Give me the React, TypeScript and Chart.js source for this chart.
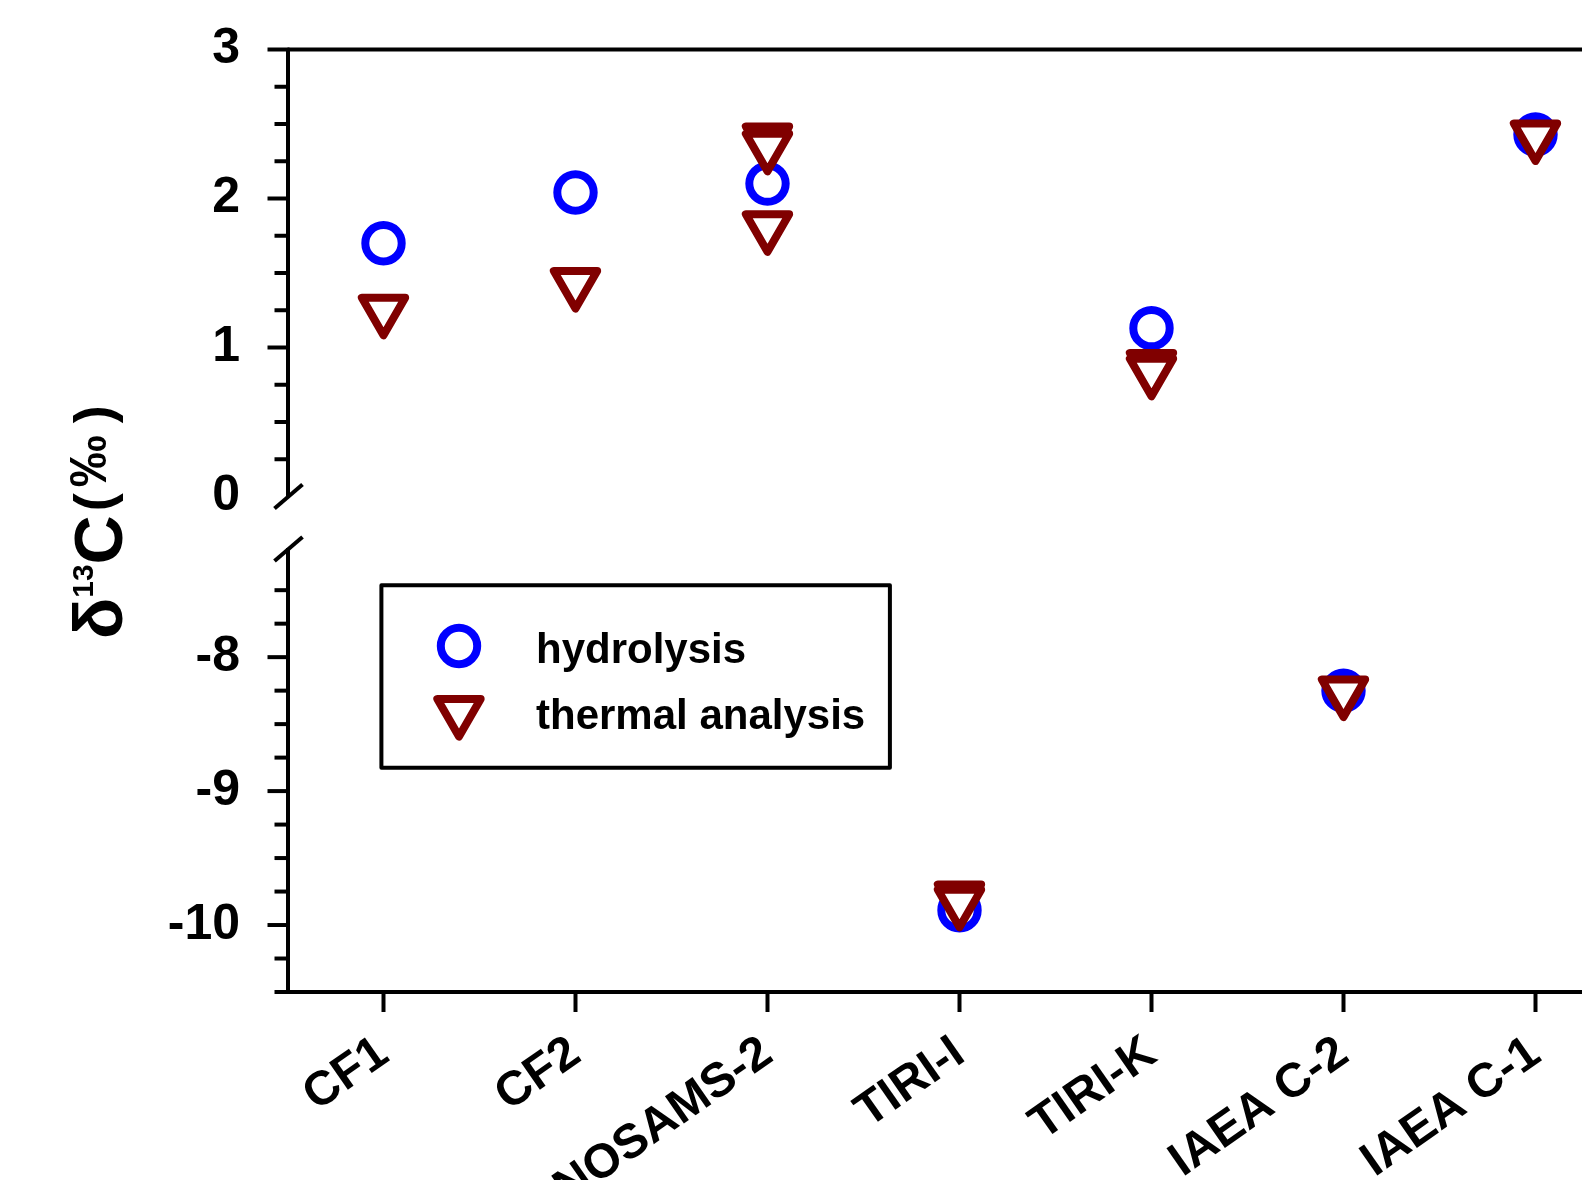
import React, { useEffect, useRef } from 'react';
import { Chart, registerables } from 'chart.js';

Chart.register(...registerables);

// ---------------- data ----------------
const categories = ['CF1', 'CF2', 'NOSAMS-2', 'TIRI-I', 'TIRI-K', 'IAEA C-2', 'IAEA C-1'];
const hydrolysis: (number | null)[] = [1.70, 2.04, 2.10, -9.89, 1.13, -8.25, 2.43];
const thermalRunA: (number | null)[] = [1.25, 1.43, 2.40, -9.79, 0.88, -8.26, 2.42];
const thermalRunB: (number | null)[] = [null, null, 2.35, -9.83, 0.84, null, null];
const thermalRunC: (number | null)[] = [null, null, 1.81, null, null, null, null];
const upperRange = [0, 3];
const lowerRange = [-10.5, -7.2];
const tickStep = 0.25;
const legendLabels = ['hydrolysis', 'thermal analysis'];
const titleParts = ['\u03b4', '13', 'C', '(', '\u2030', ')'];

// ---------------- layout / style ----------------
const FONT = "'Liberation Sans', Arial, Helvetica, sans-serif";
const CANVAS_W = 1640;
const CANVAS_H = 1180;
const AXIS_X = 287.5;
const PLOT_RIGHT = 1631.5;
const UPPER_TOP = 49.5;
const UPPER_BOTTOM = 496.5;
const LOWER_TOP = 550;
const LOWER_BOTTOM = 992;
const BLUE = '#0000ff';
const MAROON = '#800000';
const CIRCLE_R = 18.2;
const TRI_R = 25;
const MARK_W = 8;
const titleSizes = [68, 30, 68, 54, 52, 54];
const titleRises = [0, 29, 0, 10, 16, 10];
const titleGapsBefore = [0, 0, 0, 4, 6, 12];

const isQuarter = (v: number) => Math.abs(v * 4 - Math.round(v * 4)) < 1e-6;

const circleStyle = {
  showLine: false,
  borderWidth: 0,
  pointStyle: 'circle',
  pointRadius: CIRCLE_R,
  pointHoverRadius: CIRCLE_R,
  pointBorderWidth: MARK_W,
  pointHoverBorderWidth: MARK_W,
  pointBorderColor: BLUE,
  pointBackgroundColor: '#ffffff',
  borderColor: BLUE,
};
const triStyle = {
  showLine: false,
  borderWidth: 0,
  pointStyle: 'triangle',
  pointRotation: 180,
  pointRadius: TRI_R,
  pointHoverRadius: TRI_R,
  pointBorderWidth: MARK_W,
  pointHoverBorderWidth: MARK_W,
  pointBorderColor: MAROON,
  pointBackgroundColor: '#ffffff',
  borderColor: MAROON,
};

function pick(arr: (number | null)[], upper: boolean) {
  return arr.map((v) => (v === null ? null : upper ? (v >= 0 ? v : null) : v < 0 ? v : null));
}

function makeDatasets(upper: boolean): any[] {
  return [
    { label: legendLabels[0], data: pick(hydrolysis, upper), order: 3, ...circleStyle },
    { label: legendLabels[1], data: pick(thermalRunA, upper), order: 2, ...triStyle },
    { label: legendLabels[1], data: pick(thermalRunB, upper), order: 1, ...triStyle },
    { label: legendLabels[1], data: pick(thermalRunC, upper), order: 0, ...triStyle },
  ];
}

function yAxis(range: number[]): any {
  return {
    type: 'linear',
    position: 'left',
    min: range[0],
    max: range[1],
    grid: {
      display: true,
      drawOnChartArea: false,
      drawTicks: true,
      tickLength: 47.5,
      tickColor: 'rgba(0,0,0,0)',
      color: 'rgba(0,0,0,0)',
    },
    border: { display: true, color: '#000', width: 4 },
    ticks: {
      stepSize: tickStep,
      autoSkip: false,
      padding: 0,
      color: '#000',
      font: { family: FONT, size: 50, weight: 'bold' },
      callback: (v: any) => (Number.isInteger(v) ? String(v) : ''),
    },
    afterFit: (s: any) => {
      s.width = AXIS_X;
    },
  };
}

const roundJoin = {
  id: 'roundJoin',
  beforeDatasetsDraw(chart: any) {
    chart.ctx.lineJoin = 'round';
  },
};

function drawTriangle(ctx: CanvasRenderingContext2D, x: number, y: number) {
  ctx.beginPath();
  for (let k = 0; k < 3; k++) {
    const a = Math.PI + (k * 2 * Math.PI) / 3;
    const px = x + Math.sin(a) * TRI_R;
    const py = y - Math.cos(a) * TRI_R;
    if (k === 0) ctx.moveTo(px, py);
    else ctx.lineTo(px, py);
  }
  ctx.closePath();
}

function axisDecor(upper: boolean) {
  return {
    id: 'axisDecor',
    afterDraw(chart: any) {
      const { ctx, chartArea } = chart;
      const ys = chart.scales.y;
      ctx.save();
      ctx.strokeStyle = '#000';
      ctx.lineWidth = 4;
      ctx.lineCap = 'butt';
      const seg = (x1: number, y1: number, x2: number, y2: number) => {
        ctx.beginPath();
        ctx.moveTo(x1, y1);
        ctx.lineTo(x2, y2);
        ctx.stroke();
      };
      ys.ticks.forEach((t: any) => {
        const v = t.value;
        if (!isQuarter(v)) return;
        if (upper && v === upperRange[0]) return;
        const py = ys.getPixelForValue(v);
        const len = Number.isInteger(v) ? 20 : 13;
        seg(chartArea.left - len, py, chartArea.left + 2, py);
      });
      if (upper) {
        seg(chartArea.left, chartArea.top, chart.width, chartArea.top);
        seg(chartArea.left - 13, chartArea.bottom + 12, chartArea.left + 15, chartArea.bottom - 12);
      } else {
        const xs = chart.scales.x;
        categories.forEach((_, i) => {
          const px = xs.getPixelForTick(i);
          seg(px, chartArea.bottom, px, chartArea.bottom + 20);
        });
        seg(chartArea.left - 13, chartArea.top + 11, chartArea.left + 15, chartArea.top - 13);
      }
      ctx.restore();
    },
  };
}

const legendAndTitle = {
  id: 'legendAndTitle',
  afterDraw(chart: any) {
    const ctx: CanvasRenderingContext2D = chart.ctx;
    ctx.save();
    // legend box
    ctx.strokeStyle = '#000';
    ctx.lineWidth = 4;
    ctx.lineJoin = 'round';
    ctx.strokeRect(381.4, 585.2, 508.5, 182.6);
    // circle marker
    ctx.lineWidth = MARK_W;
    ctx.strokeStyle = BLUE;
    ctx.fillStyle = '#fff';
    ctx.beginPath();
    ctx.arc(459, 646, CIRCLE_R, 0, Math.PI * 2);
    ctx.fill();
    ctx.stroke();
    // triangle marker
    ctx.strokeStyle = MAROON;
    drawTriangle(ctx, 459, 711.5);
    ctx.fill();
    ctx.stroke();
    // legend text
    ctx.fillStyle = '#000';
    ctx.font = `bold 42px ${FONT}`;
    ctx.textAlign = 'left';
    ctx.textBaseline = 'alphabetic';
    ctx.fillText(legendLabels[0], 536, 663);
    ctx.fillText(legendLabels[1], 536, 728.5);
    ctx.restore();

    // y axis title (rotated)
    ctx.save();
    ctx.translate(122, 639);
    ctx.rotate(-Math.PI / 2);
    ctx.fillStyle = '#000';
    ctx.textAlign = 'left';
    ctx.textBaseline = 'alphabetic';
    let x = 0;
    titleParts.forEach((t, i) => {
      x += titleGapsBefore[i];
      ctx.font = `bold ${titleSizes[i]}px ${FONT}`;
      ctx.fillText(t, x, -titleRises[i]);
      x += ctx.measureText(t).width;
    });
    ctx.restore();
  },
};

const baseOptions = {
  responsive: false,
  animation: false,
  devicePixelRatio: 1,
  events: [],
  plugins: { legend: { display: false }, tooltip: { enabled: false }, title: { display: false } },
};

function upperConfig(): any {
  return {
    type: 'line',
    data: { labels: categories, datasets: makeDatasets(true) },
    options: {
      ...baseOptions,
      layout: {
        autoPadding: false,
        padding: { left: 0, right: CANVAS_W - PLOT_RIGHT, top: UPPER_TOP, bottom: CANVAS_H - UPPER_BOTTOM },
      },
      scales: {
        x: { type: 'category', offset: true, display: false },
        y: yAxis(upperRange),
      },
    },
    plugins: [roundJoin, axisDecor(true)],
  };
}

function lowerConfig(): any {
  return {
    type: 'line',
    data: { labels: categories, datasets: makeDatasets(false) },
    options: {
      ...baseOptions,
      layout: {
        autoPadding: false,
        padding: { left: 0, right: CANVAS_W - PLOT_RIGHT, top: LOWER_TOP, bottom: 0 },
      },
      scales: {
        x: {
          type: 'category',
          offset: true,
          position: 'bottom',
          grid: { display: false, drawTicks: false, offset: false },
          border: { display: true, color: '#000', width: 4 },
          ticks: {
            autoSkip: false,
            maxRotation: 35,
            minRotation: 35,
            padding: 33,
            color: '#000',
            font: { family: FONT, size: 48, weight: 'bold' },
          },
          afterFit: (s: any) => {
            s.height = CANVAS_H - LOWER_BOTTOM;
          },
        },
        y: yAxis(lowerRange),
      },
    },
    plugins: [roundJoin, axisDecor(false), legendAndTitle],
  };
}

export default function App() {
  const upperRef = useRef<HTMLCanvasElement>(null);
  const lowerRef = useRef<HTMLCanvasElement>(null);

  useEffect(() => {
    const a = new Chart(upperRef.current as HTMLCanvasElement, upperConfig());
    const b = new Chart(lowerRef.current as HTMLCanvasElement, lowerConfig());
    return () => {
      a.destroy();
      b.destroy();
    };
  }, []);

  const canvasStyle: React.CSSProperties = { position: 'absolute', left: 0, top: 0 };
  return (
    <div
      style={{
        position: 'fixed',
        left: 0,
        top: 0,
        width: 1582,
        height: 1180,
        overflow: 'hidden',
        background: '#ffffff',
      }}
    >
      <canvas ref={upperRef} width={CANVAS_W} height={CANVAS_H} style={canvasStyle} />
      <canvas ref={lowerRef} width={CANVAS_W} height={CANVAS_H} style={canvasStyle} />
    </div>
  );
}
